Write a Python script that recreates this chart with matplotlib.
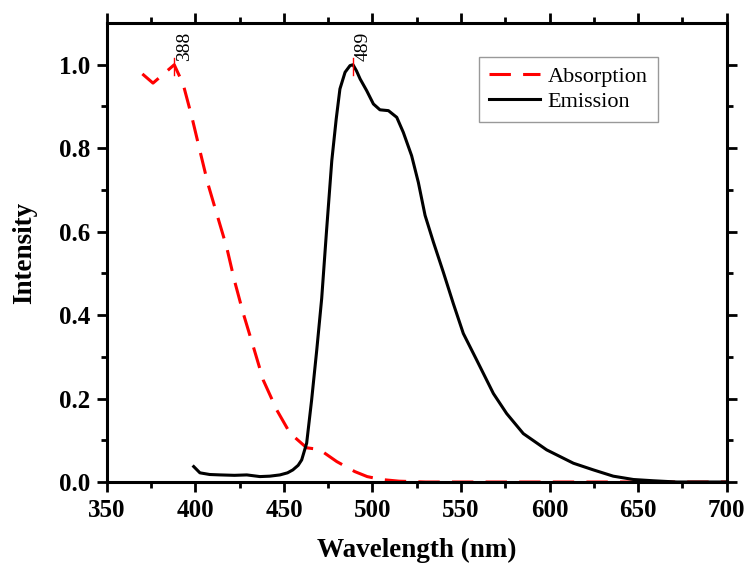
#!/usr/bin/env python3
import matplotlib
matplotlib.use("Agg")
import matplotlib.pyplot as plt
import numpy as np

# absorcion
abs_nm = [370, 376, 388, 393, 398, 402.5, 407, 412, 417.6, 422, 427, 432.7,
          438.3, 446, 453.4, 462.8, 470, 479.8, 490, 497, 505, 515, 530, 700]
abs_val = [0.978, 0.956, 1.0, 0.954, 0.874, 0.794, 0.715, 0.643, 0.563, 0.483,
           0.404, 0.324, 0.244, 0.172, 0.117, 0.082, 0.078, 0.049, 0.025,
           0.013, 0.006, 0.002, 0.0, 0.0]

# emision
em_nm = [399, 402.5, 408, 414, 422, 429, 436.4, 442, 447.7, 452, 455, 458, 460,
         462.8, 465.6, 468.5, 471.3, 474, 477, 479.5, 481.6, 484.5, 487.3, 489,
         491, 493, 496.7, 500.5, 504.2, 509, 513.7, 517.4, 522.1, 525.9, 529.7,
         534.4, 540, 545.7, 551.3, 558.9, 568.3, 575.8, 585.2, 598.4, 613.5,
         624.8, 636, 647.4, 658.6, 672, 700]
em_val = [0.037, 0.022, 0.018, 0.017, 0.016, 0.017, 0.013, 0.014, 0.017, 0.022,
          0.029, 0.04, 0.053, 0.093, 0.196, 0.316, 0.44, 0.60, 0.77, 0.87,
          0.942, 0.982, 0.998, 1.0, 0.985, 0.966, 0.938, 0.906, 0.892, 0.89,
          0.874, 0.838, 0.782, 0.718, 0.639, 0.575, 0.503, 0.427, 0.356, 0.292,
          0.212, 0.164, 0.116, 0.077, 0.045, 0.029, 0.014, 0.006, 0.003, 0.0, 0.0]

picos = [388, 489]
picos_val = [1.0, 1.0]


def grafico():
    plt.rcParams['font.family'] = ['Liberation Serif', 'DejaVu Serif']
    fig = plt.figure(figsize=(7.46, 5.67), dpi=100)
    ax = fig.add_axes([0.1434, 0.1499, 0.8305, 0.8095])

    ax.plot(abs_nm, abs_val, color='red', lw=2.2, dashes=(7, 4), label='Absorption')
    ax.plot(em_nm, em_val, color='black', lw=2.2, label='Emission')

    # marcas de los picos
    for p, v in zip(picos, picos_val):
        ax.plot([p, p], [v - 0.025, v + 0.017], color='red', lw=1)
        ax.annotate(str(p), xy=(p, v + 0.01), xytext=(1, 0), textcoords='offset points',
                    rotation=90, ha='left', va='bottom', fontsize=14)

    ax.set_xlim(350, 700)
    ax.set_ylim(0, 1.1)
    ax.set_xticks(np.arange(350, 701, 50))
    ax.set_xticks(np.arange(375, 700, 50), minor=True)
    ax.set_yticks(np.arange(0, 1.01, 0.2))
    ax.set_yticks(np.arange(0.1, 1.1, 0.2), minor=True)
    ax.set_yticklabels(['%.1f' % t for t in np.arange(0, 1.01, 0.2)])

    ax.tick_params(which='both', direction='out', top=True, right=True,
                   labeltop=False, labelright=False, width=2)
    ax.tick_params(which='major', length=7, labelsize=18, pad=5)
    ax.tick_params(which='minor', length=4)
    for lab in ax.get_xticklabels() + ax.get_yticklabels():
        lab.set_fontweight('bold')
    for s in ax.spines.values():
        s.set_linewidth(2.2)

    ax.set_xlabel('Wavelength (nm)', fontsize=19.5, fontweight='bold', labelpad=12)
    ax.set_ylabel('Intensity', fontsize=19.5, fontweight='bold', labelpad=16)

    leg = ax.legend(loc='upper right', bbox_to_anchor=(0.889, 0.927), fontsize=16,
                    fancybox=False, edgecolor='gray', handlelength=2.3,
                    borderpad=0.45, labelspacing=0.2, handletextpad=0.35,
                    borderaxespad=0)
    leg.get_frame().set_linewidth(1)

    fig.savefig('out.png', dpi=100)


if __name__ == "__main__":
    grafico()
